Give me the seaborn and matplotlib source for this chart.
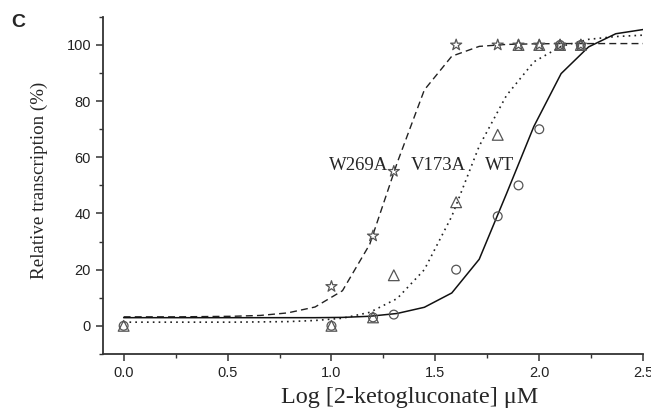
import matplotlib
matplotlib.use("Agg")
import matplotlib.pyplot as plt
from matplotlib.ticker import MultipleLocator
import seaborn as sns
import pandas as pd

# measured points
wt_x = [0.0, 1.0, 1.2, 1.3, 1.6, 1.8, 1.9, 2.0, 2.1, 2.2]
wt_y = [0, 0, 3, 4, 20, 39, 50, 70, 100, 100]
v173a_x = [0.0, 1.0, 1.2, 1.3, 1.6, 1.8, 1.9, 2.0, 2.1, 2.2]
v173a_y = [0, 0, 3, 18, 44, 68, 100, 100, 100, 100]
w269a_x = [1.0, 1.2, 1.3, 1.6, 1.8, 1.9, 2.0, 2.1, 2.2]
w269a_y = [14, 32, 55, 100, 100, 100, 100, 100, 100]

# fitted curves at 20 evenly spaced x positions
fit_x = [0.0, 0.132, 0.263, 0.395, 0.526, 0.658, 0.789, 0.921, 1.053, 1.184,
         1.316, 1.447, 1.579, 1.711, 1.842, 1.974, 2.105, 2.237, 2.368, 2.5]
wt_fit = [2.9, 2.9, 2.9, 2.9, 2.9, 2.9, 2.9, 2.9, 3.0, 3.4,
          4.4, 6.6, 11.7, 23.7, 47, 71, 89.8, 99.3, 104, 105.5]
v173a_fit = [1.3, 1.3, 1.3, 1.3, 1.3, 1.4, 1.5, 1.9, 2.7, 4.8,
             9.7, 20, 39, 64, 82, 94, 99.5, 102, 103, 103.5]
w269a_fit = [3.2, 3.2, 3.2, 3.3, 3.4, 3.7, 4.6, 6.7, 12.5, 29,
             58, 84, 96, 99.5, 100.2, 100.4, 100.5, 100.5, 100.5, 100.5]

x_ticks = [0.0, 0.5, 1.0, 1.5, 2.0, 2.5]
y_ticks = [0, 20, 40, 60, 80, 100]

sns.set_style('ticks')
plt.rcParams['font.family'] = ['Liberation Sans', 'DejaVu Sans']
plt.rcParams['axes.edgecolor'] = '#333333'
plt.rcParams['xtick.color'] = '#333333'
plt.rcParams['ytick.color'] = '#333333'
plt.rcParams['xtick.labelcolor'] = '#222222'
plt.rcParams['ytick.labelcolor'] = '#222222'

fig = plt.figure(figsize=(6.51, 4.12), dpi=100)
ax = fig.add_axes([0.158, 0.141, 0.83, 0.818])

fits = pd.DataFrame({'x': fit_x, 'WT': wt_fit, 'V173A': v173a_fit, 'W269A': w269a_fit})
sns.lineplot(data=fits, x='x', y='W269A', ax=ax, color='#222222', lw=1.0,
             linestyle=(0, (5, 3)))
sns.lineplot(data=fits, x='x', y='V173A', ax=ax, color='#222222', lw=1.2,
             linestyle=(0, (1, 2.5)))
sns.lineplot(data=fits, x='x', y='WT', ax=ax, color='#111111', lw=1.1)

mk = dict(facecolor='none', edgecolor='#555555', linewidth=0.9, ax=ax, zorder=3)
sns.scatterplot(x=wt_x, y=wt_y, marker='o', s=40, **mk)
sns.scatterplot(x=v173a_x, y=v173a_y, marker='^', s=60, **mk)
sns.scatterplot(x=w269a_x, y=w269a_y, marker='*', s=70, **mk)

serif = ['Liberation Serif', 'DejaVu Serif']
ax.text(1.275, 57, 'W269A', ha='right', va='center', fontsize=13.5, family=serif)
ax.text(1.515, 57, 'V173A', ha='center', va='center', fontsize=13.5, family=serif)
ax.text(1.81, 57, 'WT', ha='center', va='center', fontsize=13.5, family=serif)

ax.set_xlim(-0.1, 2.5)
ax.set_ylim(-10, 110)
ax.set_xticks(x_ticks)
ax.set_yticks(y_ticks)
ax.xaxis.set_minor_locator(MultipleLocator(0.25))
ax.yaxis.set_minor_locator(MultipleLocator(10))
ax.tick_params(which='major', length=5, width=1.1, labelsize=10.5, direction='out')
ax.tick_params(which='minor', length=3, width=1.0, direction='out')
for side in ['left', 'bottom']:
    ax.spines[side].set_linewidth(1.3)
sns.despine(ax=ax)

ax.set_xlabel('Log [2-ketogluconate] μM', fontsize=17.4, family=serif, va='center')
ax.xaxis.set_label_coords(0.568, -0.128)
ax.set_ylabel('Relative transcription (%)', fontsize=13.7, family=serif, va='center')
ax.yaxis.set_label_coords(-0.117, 0.516)

fig.text(0.018, 0.965, 'C', fontsize=14, fontweight='bold', va='top', ha='left')

fig.savefig('out.png', dpi=100, facecolor='white')
